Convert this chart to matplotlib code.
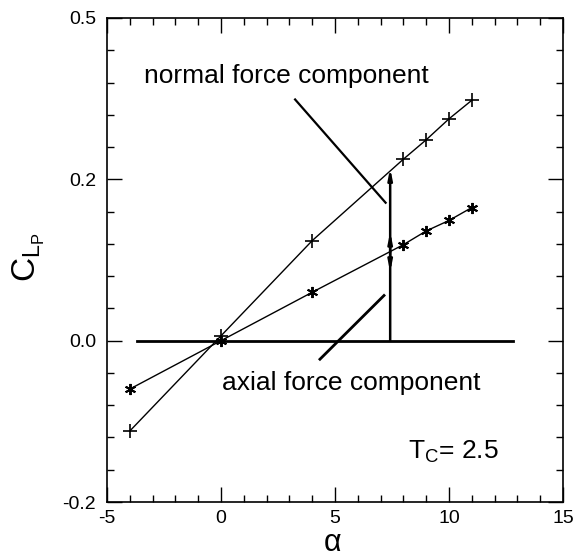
import matplotlib
matplotlib.use("Agg")
import matplotlib.pyplot as plt
from matplotlib.ticker import MultipleLocator, FixedLocator

# ---- data ----
alpha_normal = [-4, 0, 4, 8, 9, 10, 11]
clp_normal = [-0.112, 0.006, 0.124, 0.225, 0.249, 0.275, 0.298]

alpha_axial = [-4, 0, 4, 8, 9, 10, 11]
clp_axial = [-0.060, 0.0, 0.060, 0.119, 0.136, 0.149, 0.165]

zero_line_x = [-3.7, 12.8]
zero_line_y = [0.0, 0.0]

arrow_alpha = 7.42
arrow_top = 0.214
arrow_mid = 0.11

x_ticks = [-5, 0, 5, 10, 15]
x_ticklabels = ["-5", "0", "5", "10", "15"]
y_ticks = [-0.2, 0.0, 0.2, 0.4]
y_ticklabels = ["-0.2", "0.0", "0.2", "0.5"]

plt.rcParams['font.family'] = ['Liberation Sans', 'DejaVu Sans']
plt.rcParams['mathtext.fontset'] = 'custom'
plt.rcParams['mathtext.rm'] = 'Liberation Sans'

fig = plt.figure(figsize=(5.8, 5.6), dpi=100)
ax = fig.add_axes([107/580, 1-502/560, (563-107)/580, (502-18)/560])

ax.plot(alpha_normal, clp_normal, color='black', lw=1.0, marker='+', ms=10, mew=1.2)
ax.plot(alpha_axial, clp_axial, color='black', lw=1.0, marker=(6, 2, 0), ms=8, mew=1.4)
ax.plot(zero_line_x, zero_line_y, color='black', lw=2.0)

# vertical force vector
arrow_style = dict(arrowstyle='-|>,head_width=0.12,head_length=0.6', color='black', lw=1.8,
                   shrinkA=0, shrinkB=0)
ax.annotate('', xy=(arrow_alpha, arrow_top), xytext=(arrow_alpha, 0.0), arrowprops=arrow_style)
ax.annotate('', xy=(arrow_alpha, 0.135), xytext=(arrow_alpha, arrow_mid), arrowprops=arrow_style)
ax.annotate('', xy=(arrow_alpha, 0.085), xytext=(arrow_alpha, arrow_mid), arrowprops=arrow_style)

# annotation pointers
ax.plot([3.25, 7.22], [0.299, 0.171], color='black', lw=1.6)
ax.plot([4.34, 7.15], [-0.023, 0.056], color='black', lw=2.0)

ax.text(-3.38, 0.328, 'normal force component', fontsize=19, ha='left', va='center')
ax.text(0.04, -0.052, 'axial force component', fontsize=19, ha='left', va='center')
ax.text(8.2, -0.138, r'T$_\mathregular{C}$= 2.5', fontsize=19, ha='left', va='center')

ax.set_xlim(-5, 15)
ax.set_ylim(-0.2, 0.4)
ax.xaxis.set_major_locator(FixedLocator(x_ticks))
ax.set_xticklabels(x_ticklabels)
ax.xaxis.set_minor_locator(MultipleLocator(1))
ax.yaxis.set_major_locator(FixedLocator(y_ticks))
ax.set_yticklabels(y_ticklabels)
ax.yaxis.set_minor_locator(MultipleLocator(0.04))

ax.tick_params(which='both', direction='in', top=True, right=True, width=1.0, labelsize=14)
ax.tick_params(which='major', length=11, pad=8)
ax.tick_params(axis='x', which='major', pad=6)
ax.tick_params(which='minor', length=5)
for s in ax.spines.values():
    s.set_linewidth(1.2)

fig.text(332/580, 1-551/560, r'$\mathregular{α}$', fontsize=22, ha='center', va='baseline')
fig.text(0.05, 0.54, r'C$_{\mathregular{L}_\mathregular{P}}$', fontsize=24, rotation=90,
         ha='center', va='center')

fig.savefig('out.png', dpi=100)
